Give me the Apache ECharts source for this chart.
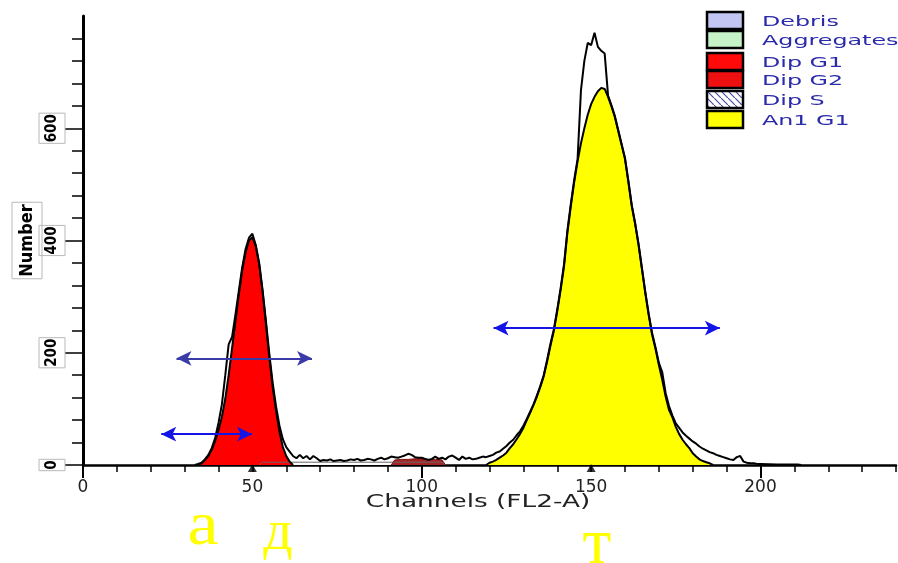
<!DOCTYPE html>
<html>
<head>
<meta charset="utf-8">
<script src="https://cdn.jsdelivr.net/npm/echarts@6.0.0/dist/echarts.min.js"></script>
<style>
  html, body { margin: 0; padding: 0; background: #fff; }
  #chart { width: 898px; height: 563px; }
</style>
</head>
<body>
<div id="chart"></div>
<script>
// ---- data (channel -> count) ----
const xLabelValues = [0, 50, 100, 150, 200];
const xMajorTicks = [0, 100, 200];
const yLabelValues = [0, 200, 400, 600];
const yMinorTicks = [0, 40, 80, 120, 160, 200, 240, 280, 320, 360, 400, 440, 480, 520, 560, 600, 640, 680, 720, 760];

// Dip G1 (red) model peak
const dipG1Ch = [34, 35, 36, 37, 38, 39, 40, 41, 42, 43, 44, 45, 46, 47, 48, 49, 50, 51, 52, 53, 54, 55, 56, 57, 58, 59, 60, 61, 62];
const dipG1Val = [0, 3, 9, 16, 27, 43, 62, 86, 118, 160, 208, 256, 304, 347, 379, 400, 406, 390, 358, 310, 251, 192, 139, 96, 59, 32, 16, 6, 0];

// Dip G2 (dark red) small bump
const dipG2Ch = [91, 92, 94, 96, 98, 100, 102, 104, 106, 107];
const dipG2Val = [0, 9, 10, 10, 11, 11, 10, 10, 9, 0];

// Dip S strip along the baseline
const dipSCh = [52, 53, 106, 107];
const dipSVal = [0, 5, 5, 0];

// An1 G1 (yellow) model peak
const an1G1Ch = [119, 120, 121, 122, 123, 124, 125, 126, 127, 128,
  129, 130, 131, 132, 133, 134, 135, 136, 137, 138,
  139, 140, 141, 142, 143, 144, 145, 146, 147, 148,
  149, 150, 151, 152, 153, 154, 155, 156, 157, 158,
  159, 160, 161, 162, 163, 164, 165, 166, 167, 168,
  169, 170, 171, 172, 173, 174, 175, 176, 177, 178,
  179, 180, 181, 182, 183, 184, 185, 186];
const an1G1Val = [0, 4, 6, 9, 13, 17, 22, 30, 37, 46,
  55, 66, 80, 93, 107, 122, 139, 158, 184, 213,
  239, 274, 312, 354, 414, 461, 504, 541, 573, 600,
  624, 643, 656, 666, 672, 670, 656, 639, 620, 595,
  570, 545, 504, 461, 429, 392, 349, 306, 267, 232,
  207, 178, 152, 122, 98, 85, 68, 55, 45, 37,
  30, 21, 15, 10, 7, 5, 3, 0];

// raw histogram (black outline)
const rawCh = [33, 34, 35, 36, 37, 38, 39, 40, 41, 42,
  43, 44, 45, 46, 47, 48, 49, 50, 51, 52,
  53, 54, 55, 56, 57, 58, 59, 60, 61, 62,
  63, 64, 65, 66, 67, 68, 69, 70, 71, 72,
  73, 74, 75, 76, 77, 78, 79, 80, 81, 82,
  83, 84, 85, 86, 87, 88, 89, 90, 91, 92,
  93, 94, 95, 96, 97, 98, 99, 100, 101, 102,
  103, 104, 105, 106, 107, 108, 109, 110, 111, 112,
  113, 114, 115, 116, 117, 118, 119, 120, 121, 122,
  123, 124, 125, 126, 127, 128, 129, 130, 131, 132,
  133, 134, 135, 136, 137, 138, 139, 140, 141, 142,
  143, 144, 145, 146, 147, 148, 149, 150, 151, 152,
  153, 154, 155, 156, 157, 158, 159, 160, 161, 162,
  163, 164, 165, 166, 167, 168, 169, 170, 171, 172,
  173, 174, 175, 176, 177, 178, 179, 180, 181, 182,
  183, 184, 185, 186, 187, 188, 189, 190, 191, 192,
  193, 194, 195, 196, 197, 198, 199, 200, 205, 211, 212];
const rawVal = [0, 2, 4, 10, 18, 30, 48, 75, 108, 160,
  215, 228, 268, 310, 352, 385, 405, 412, 392, 360,
  312, 257, 198, 146, 104, 70, 46, 32, 24, 16,
  12, 18, 12, 16, 10, 16, 12, 7, 9, 8,
  10, 7, 8, 9, 7, 8, 10, 9, 11, 8,
  9, 11, 10, 8, 11, 13, 10, 12, 15, 14,
  13, 15, 17, 20, 18, 14, 13, 13, 11, 9,
  11, 15, 11, 13, 10, 15, 17, 13, 9, 15,
  11, 13, 10, 11, 13, 15, 14, 16, 18, 22,
  24, 29, 34, 40, 45, 53, 60, 70, 82, 95,
  108, 124, 141, 160, 187, 216, 242, 277, 315, 358,
  418, 465, 508, 545, 668, 720, 752, 748, 770, 745,
  738, 733, 658, 641, 622, 597, 572, 547, 506, 463,
  431, 394, 351, 308, 269, 235, 210, 182, 165, 128,
  105, 88, 74, 66, 58, 52, 47, 42, 38, 33,
  29, 26, 23, 21, 18, 16, 14, 12, 10, 9,
  14, 16, 6, 4, 3, 3, 2, 2, 1, 1, 0];

// peak position markers on the axis
const peakMarkers = [50, 150];

// width arrows drawn on the plot
const arrowFrom = [27.6, 23.1, 121.2];
const arrowTo = [67.6, 49.9, 188];
const arrowLevel = [190, 55, 244];
const arrowColors = ['#3b3ba8', '#1414e6', '#1414e6'];

// legend entries
const legendNames = ['Debris', 'Aggregates', 'Dip G1', 'Dip G2', 'Dip S', 'An1 G1'];
const legendFill = ['#c2c4f2', '#c6f2c8', '#ff0a0a', '#ee1010', 'hatch', '#ffff00'];
const legendTop = [12, 31, 53, 71, 91, 111];

// letters below the axis
const letters = ['а', 'д', 'т'];

function zip(ch, val) {
  return ch.map((c, i) => [c, val[i]]);
}

// small diagonal hatch used for the Dip S swatch
function hatchPattern() {
  const c = document.createElement('canvas');
  c.width = 7; c.height = 7;
  const ctx = c.getContext('2d');
  ctx.fillStyle = '#fff';
  ctx.fillRect(0, 0, 7, 7);
  ctx.strokeStyle = '#4a4aa8';
  ctx.lineWidth = 1.2;
  ctx.beginPath();
  ctx.moveTo(-1, -1); ctx.lineTo(8, 8);
  ctx.stroke();
  return { image: c, repeat: 'repeat' };
}

const chart = echarts.init(document.getElementById('chart'));

const legendGraphics = [];
legendNames.forEach((name, i) => {
  legendGraphics.push({
    type: 'rect',
    shape: { x: 707, y: legendTop[i], width: 36, height: 17 },
    style: {
      fill: legendFill[i] === 'hatch' ? hatchPattern() : legendFill[i],
      stroke: '#000',
      lineWidth: 2.5
    },
    z: 10
  });
  legendGraphics.push({
    type: 'text',
    x: 762,
    y: legendTop[i] + 10,
    scaleX: 1.7,
    style: {
      text: name,
      fill: '#2a2aaa',
      font: '14px "DejaVu Sans"',
      textAlign: 'left',
      textVerticalAlign: 'middle'
    },
    z: 10
  });
});

const letterGraphics = [
  { x: 203, y: 528, size: 70, sy: 0.86 },
  { x: 278, y: 534, size: 58, sy: 1 },
  { x: 597, y: 546, size: 66, sy: 1 }
].map((p, i) => ({
  type: 'text',
  x: p.x,
  y: p.y,
  scaleY: p.sy,
  style: {
    text: letters[i],
    fill: '#ffff00',
    font: p.size + 'px "Liberation Serif"',
    textAlign: 'center',
    textVerticalAlign: 'middle'
  },
  z: 10
}));

const option = {
  animation: false,
  backgroundColor: '#fff',
  grid: { left: 83, right: 2, top: 16, bottom: 98, containLabel: false, outerBoundsMode: 'none' },
  xAxis: [
    {
      type: 'value', min: 0, max: 240, interval: 10,
      axisLine: { lineStyle: { color: '#000', width: 2.5 } },
      axisTick: { length: 7, lineStyle: { color: '#000', width: 1.5 } },
      axisLabel: {
        customValues: xLabelValues, margin: 14,
        color: '#222', fontFamily: 'DejaVu Sans', fontSize: 17
      },
      splitLine: { show: false }
    },
    {
      type: 'value', min: 0, max: 240, position: 'bottom',
      axisLine: { show: false },
      axisTick: { customValues: xMajorTicks, length: 13, lineStyle: { color: '#000', width: 2 } },
      axisLabel: { show: false },
      splitLine: { show: false }
    }
  ],
  yAxis: [
    {
      type: 'value', min: 0, max: 800,
      axisLine: { show: true, lineStyle: { color: '#000', width: 3 } },
      axisTick: { show: true, customValues: yMinorTicks, length: 11, lineStyle: { color: '#000', width: 1.5 } },
      axisLabel: { show: false },
      splitLine: { show: false }
    },
    {
      type: 'value', min: 0, max: 800, position: 'left',
      axisLine: { show: false },
      axisTick: { show: true, customValues: yLabelValues, length: 18, lineStyle: { color: '#000', width: 1.5 } },
      axisLabel: {
        customValues: yLabelValues, rotate: 90, margin: 18,
        color: '#000', fontFamily: '"DejaVu Sans Condensed", "DejaVu Sans"',
        fontWeight: 'bold', fontSize: 15,
        borderColor: '#b8b8b8', borderWidth: 1, padding: [6, 1, 5, 1]
      },
      splitLine: { show: false },
      name: 'Number', nameLocation: 'middle', nameGap: 41, nameRotate: 90,
      nameMoveOverlap: false,
      nameTextStyle: {
        color: '#000', fontFamily: '"DejaVu Sans Condensed", "DejaVu Sans"',
        fontWeight: 'bold', fontSize: 18,
        borderColor: '#b8b8b8', borderWidth: 1, padding: [6, 2, 6, 2]
      }
    }
  ],
  graphic: [
    {
      type: 'text', x: 478, y: 503, scaleX: 1.55,
      style: {
        text: 'Channels (FL2-A)', fill: '#222',
        font: '17px "DejaVu Sans"', textAlign: 'center', textVerticalAlign: 'middle'
      }
    }
  ].concat(legendGraphics, letterGraphics),
  series: [
    {
      name: 'Dip S', type: 'line', data: zip(dipSCh, dipSVal),
      symbol: 'none', z: 2,
      lineStyle: { color: '#666', width: 1 },
      areaStyle: { color: '#fff', opacity: 1 }
    },
    {
      name: 'Dip G2', type: 'line', data: zip(dipG2Ch, dipG2Val),
      symbol: 'none', z: 2,
      lineStyle: { color: '#7a1010', width: 1 },
      areaStyle: { color: '#a82424', opacity: 1 }
    },
    {
      name: 'Dip G1', type: 'line', data: zip(dipG1Ch, dipG1Val),
      symbol: 'none', z: 2,
      lineStyle: { color: '#000', width: 2 },
      areaStyle: { color: '#ff0000', opacity: 1 }
    },
    {
      name: 'An1 G1', type: 'line', data: zip(an1G1Ch, an1G1Val),
      symbol: 'none', z: 2,
      lineStyle: { color: '#000', width: 2 },
      areaStyle: { color: '#ffff00', opacity: 1 }
    },
    {
      name: 'Data', type: 'line', data: zip(rawCh, rawVal),
      symbol: 'none', z: 3,
      lineStyle: { color: '#000', width: 2 },
      markLine: {
        silent: true,
        symbol: ['arrow', 'arrow'],
        symbolSize: [11, 15],
        label: { show: false },
        data: arrowLevel.map((y, i) => [
          { coord: [arrowFrom[i], y], lineStyle: { color: arrowColors[i], width: 2, type: 'solid' } },
          { coord: [arrowTo[i], y] }
        ])
      }
    },
    {
      name: 'Peaks', type: 'scatter', clip: false, z: 5,
      data: peakMarkers.map(c => [c, 0]),
      symbol: 'triangle', symbolSize: [9, 8], symbolOffset: [0, 3],
      itemStyle: { color: '#000' }
    }
  ]
};

chart.setOption(option);
</script>
</body>
</html>
